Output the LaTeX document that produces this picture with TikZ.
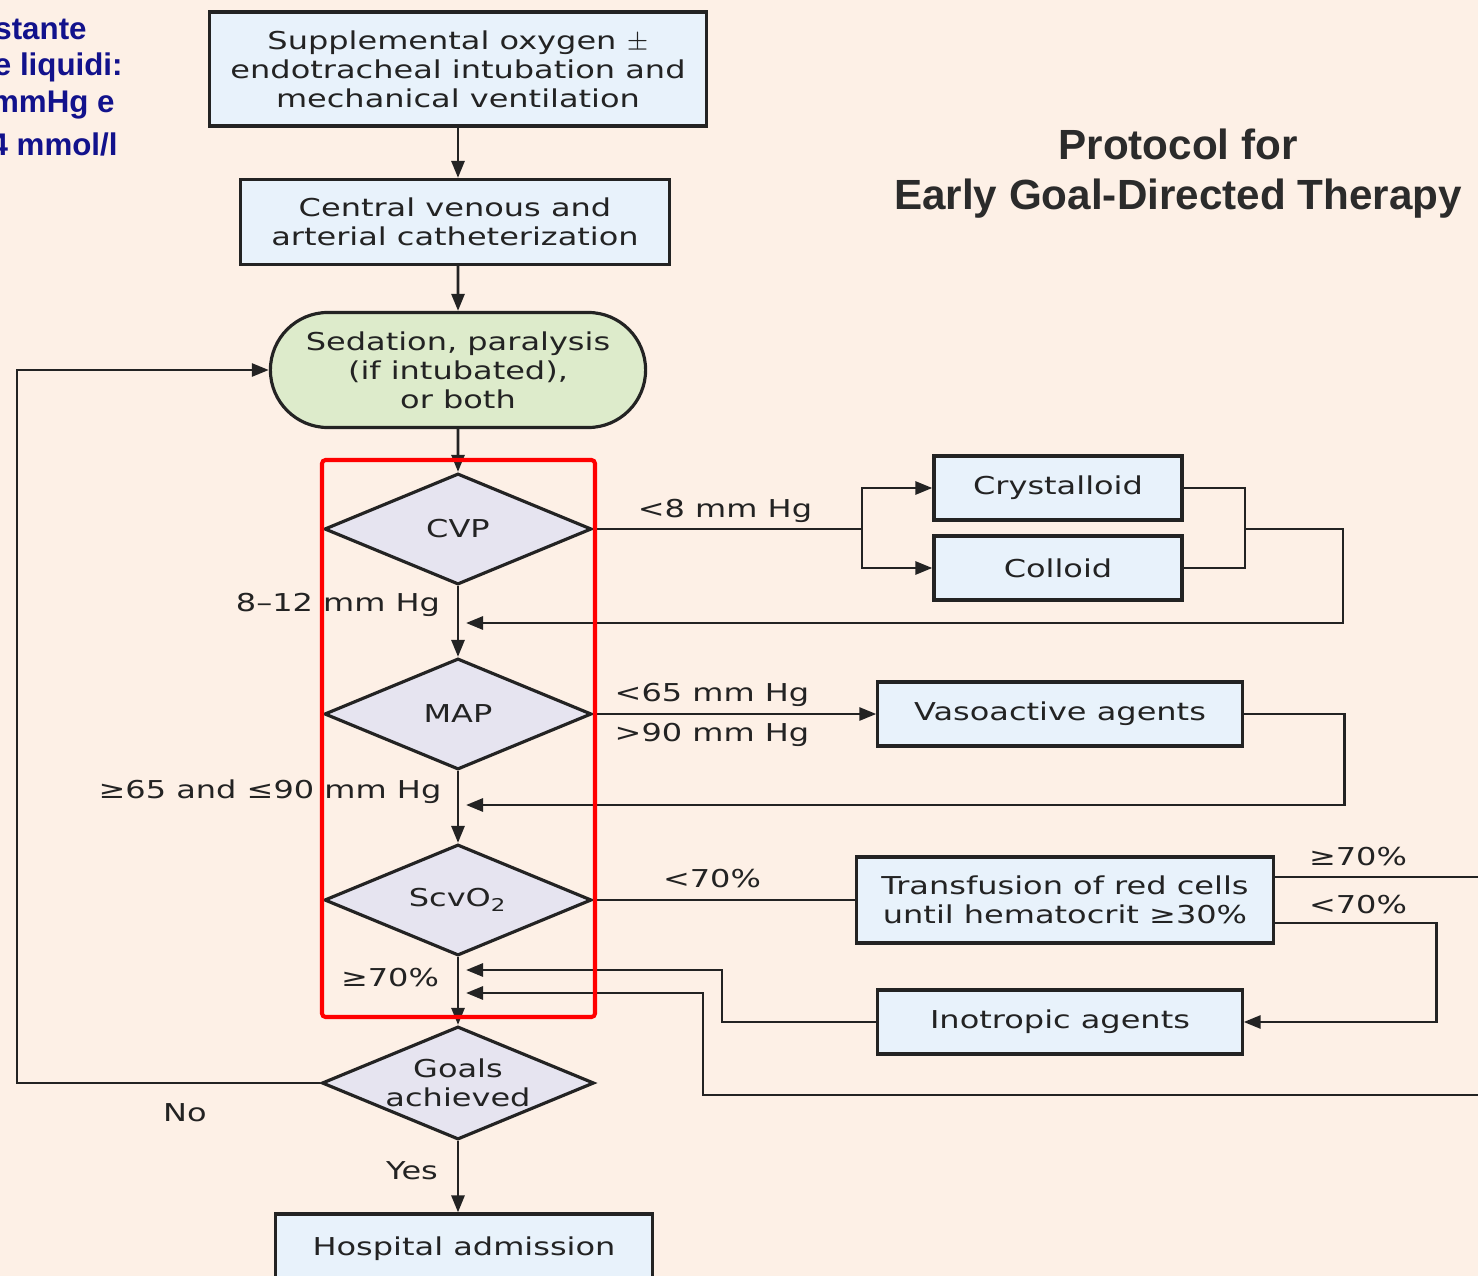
\documentclass[tikz,border=0pt]{standalone}
\usepackage{fontspec}
\setmainfont{DejaVu Sans}[FakeStretch=1.3]
\newfontfamily\headfont{Liberation Sans}
\usetikzlibrary{arrows.meta,shapes.geometric,shapes.misc}

\definecolor{bgpeach}{RGB}{253,240,230}
\definecolor{boxblue}{RGB}{232,242,251}
\definecolor{dialilac}{RGB}{230,228,240}
\definecolor{sedgreen}{RGB}{221,235,203}
\definecolor{inkgray}{RGB}{35,35,35}
\definecolor{noteblue}{RGB}{18,18,140}
\definecolor{headgray}{RGB}{43,43,43}

\newcommand\boxtext{\fontsize{7}{8.25}\selectfont\color{inkgray}}
\newcommand\notetext{\headfont\bfseries\fontsize{8.9}{10}\selectfont}

\begin{document}
\begin{tikzpicture}[x=0.01cm,y=-0.01cm,line width=0.8pt,draw=inkgray,
    >={Triangle[length=0.17cm,width=0.13cm]},
    box/.style={draw=inkgray, fill=boxblue, rectangle, align=center, inner sep=0pt, line width=0.9pt, font=\boxtext},
    dia/.style={draw=inkgray, fill=dialilac, diamond, aspect=2.4, align=center, inner sep=0pt, line width=0.9pt,
      minimum width=2.67cm, minimum height=1.11cm, font=\boxtext},
    term/.style={draw=inkgray, fill=sedgreen, rounded rectangle, align=center, inner sep=0pt, line width=0.9pt,
      minimum width=3.75cm, minimum height=1.15cm, font=\boxtext},
    lbl/.style={inner sep=1pt, font=\boxtext},
    note/.style={anchor=east, inner sep=0pt, text=noteblue, font=\notetext}]

  \useasboundingbox (0,0) rectangle (1478,1276);
  \clip (0,0) rectangle (1478,1276);
  \fill[bgpeach] (0,0) rectangle (1478,1276);

  % main column
  \node[box, minimum width=4.97cm, minimum height=1.14cm] (oxy) at (458,69)
    {Supplemental oxygen \(\pm\)\\endotracheal intubation and\\mechanical ventilation};
  \node[box, minimum width=4.29cm, minimum height=0.85cm] (cath) at (455,222)
    {Central venous and\\arterial catheterization};
  \node[term] (sed) at (458,370) {Sedation, paralysis\\(if intubated),\\or both};
  \node[dia] (cvp) at (458,529) {CVP};
  \node[dia] (map) at (458,714) {MAP};
  \node[dia] (scv) at (458,900) {ScvO\textsubscript{2}};
  \node[dia, minimum width=2.72cm, minimum height=1.13cm] (goal) at (458,1083) {Goals\\achieved};
  \node[box, minimum width=3.76cm, minimum height=0.7cm] (adm) at (464,1249) {Hospital admission};

  % side boxes
  \node[box, minimum width=2.48cm, minimum height=0.64cm] (cry) at (1058,488) {Crystalloid};
  \node[box, minimum width=2.48cm, minimum height=0.64cm] (col) at (1058,568) {Colloid};
  \node[box, minimum width=3.64cm, minimum height=0.64cm] (vaso) at (1060,714) {Vasoactive agents};
  \node[box, minimum width=4.16cm, minimum height=0.86cm] (trans) at (1065,900)
    {Transfusion of red cells\\until hematocrit ≥30\%};
  \node[box, minimum width=3.64cm, minimum height=0.64cm] (ino) at (1060,1022) {Inotropic agents};

  % join points
  \coordinate (split) at (862,529);
  \coordinate (merge) at (1245,529);
  \coordinate (r1) at (466,623);
  \coordinate (r2) at (466,805);
  \coordinate (r3) at (466,993);
  \coordinate (r4) at (466,970);

  \draw [->] (oxy) -- (oxy |- cath.north);
  \draw [->] (cath.south -| sed) -- (sed);
  \draw [->] (sed) -- (cvp);
  \draw [->] (cvp) -- (map);
  \draw [->] (map) -- (scv);
  \draw [->] (scv) -- (goal);
  \draw [->] (goal) -- (goal |- adm.north);

  \draw (cvp.east) -- (split);
  \draw [->] (split) |- (cry.west);
  \draw [->] (split) |- (col.west);
  \draw (cry.east) -| (merge);
  \draw (col.east) -| (merge);
  \draw [->] (merge) -- ++(98,0) |- (r1);

  \draw [->] (map.east) -- (vaso.west);
  \draw [->] (vaso.east) -- ++(101,0) |- (r2);

  \draw (scv.east) -- (trans.west);
  \draw [->] ([yshift=0.23cm]trans.east) -- ++(227,0) |- (703,1095) |- (r3);
  \draw [->] ([yshift=-0.23cm]trans.east) -- ++(162,0) |- (ino.east);
  \draw [->] (ino.west) -- (722,1022) |- (r4);

  \draw [->] (goal.west) -- (17,1083) |- (sed.west);

  % labels
  \node[lbl] (lcvp) at (725,511) {<8 mm Hg};
  \node[lbl] (lcvpok) at (338,605) {8–12 mm Hg};
  \node[lbl] (lmaplo) at (712,695) {<65 mm Hg};
  \node[lbl] (lmaphi) at (712,735) {>90 mm Hg};
  \node[lbl] (lmapok) at (270,792) {≥65 and ≤90 mm Hg};
  \node[lbl] (lscv) at (712,879) {<70\%};
  \node[lbl] (ltrhi) at (1358,857) {≥70\%};
  \node[lbl] (ltrlo) at (1358,905) {<70\%};
  \node[lbl] (lscvok) at (390,978) {≥70\%};
  \node[lbl] (lno) at (185,1113) {No};
  \node[lbl] (lyes) at (412,1171) {Yes};

  % title and side note
  \node[align=center, text=headgray, font={\headfont\bfseries\fontsize{12}{14.2}\selectfont}] (title) at (1178,174)
    {Protocol for\\Early Goal-Directed Therapy};
  \node[note] (n1) at (88,29) {stante};
  \node[note] (n2) at (124,67) {e liquidi:};
  \node[note] (n3) at (116,105) {mmHg e};
  \node[note] (n4) at (119,144) {4 mmol/l};

  % red frame
  \draw [red, line width=1.15pt, rounded corners=1pt] (322,460) rectangle (595,1017);
\end{tikzpicture}
\end{document}
